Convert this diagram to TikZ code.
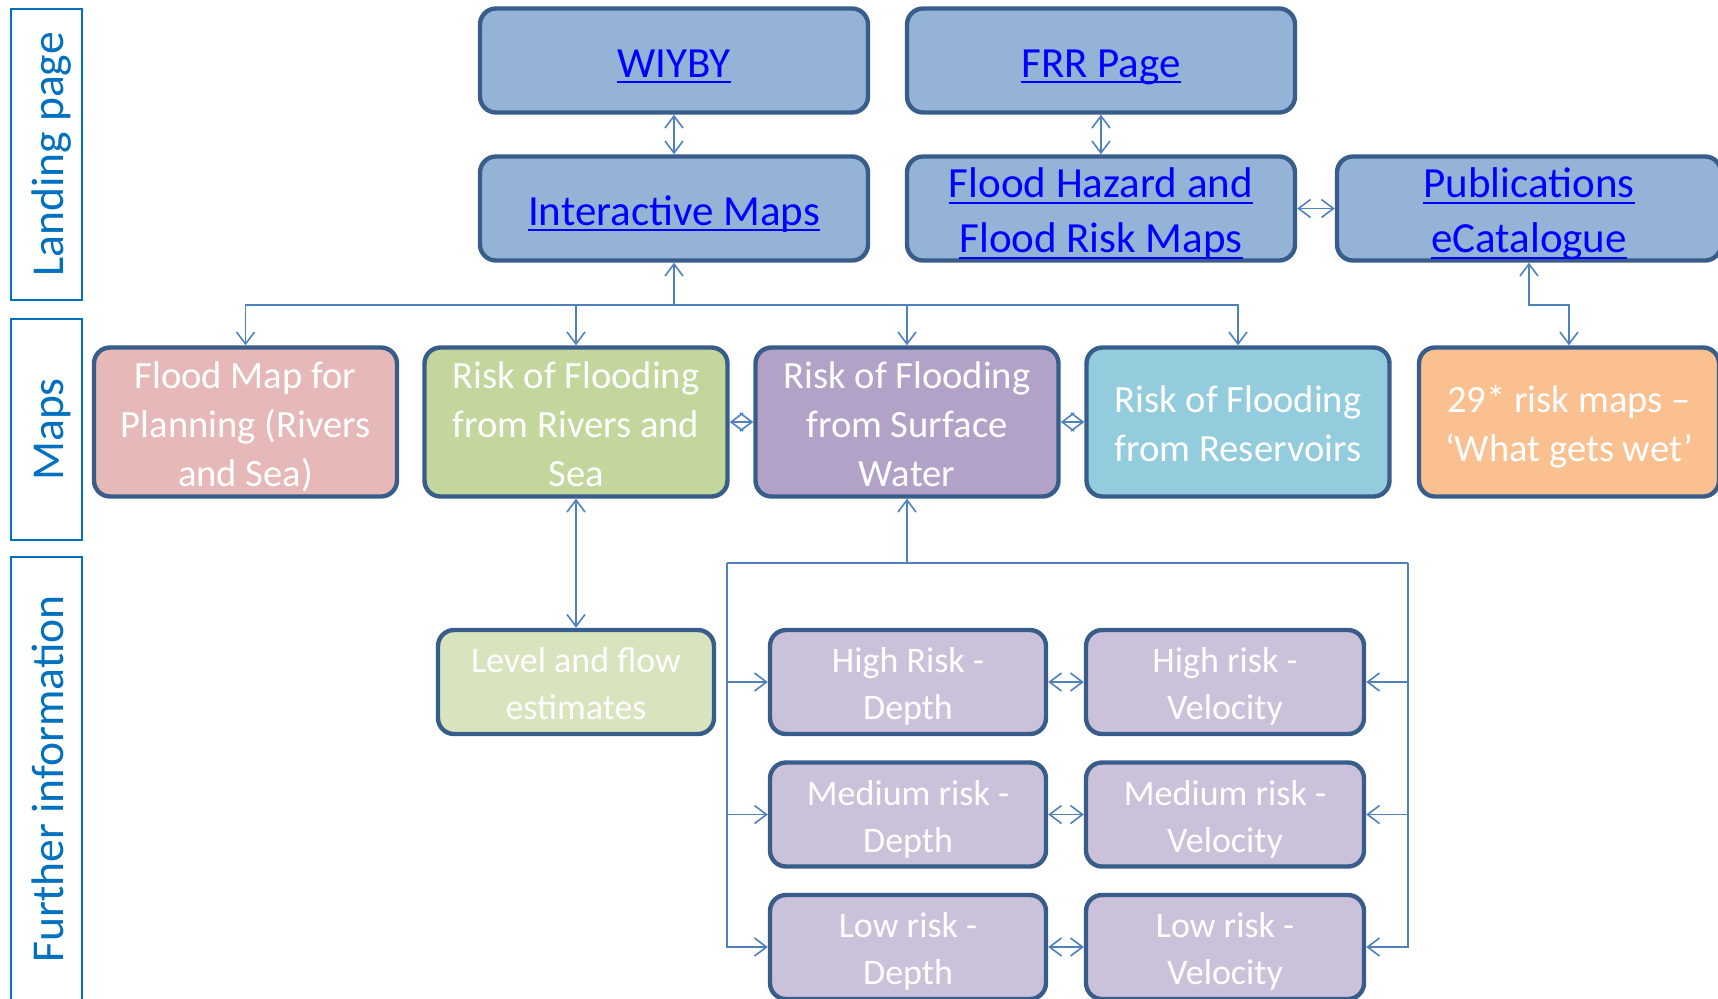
\documentclass[tikz,border=0pt]{standalone}
\usepackage{fontspec}
\setmainfont{Carlito}
\usetikzlibrary{arrows.meta}
\definecolor{topfill}{HTML}{95B3D7}
\definecolor{edgecol}{HTML}{385D8A}
\definecolor{conncol}{HTML}{4F81BD}
\definecolor{labcol}{HTML}{0070C0}
\definecolor{linkcol}{HTML}{0000FF}
\definecolor{pinkfill}{HTML}{E6B9B8}
\definecolor{greenfill}{HTML}{C3D69B}
\definecolor{purplefill}{HTML}{B3A2C7}
\definecolor{aquafill}{HTML}{93CDDD}
\definecolor{orangefill}{HTML}{FAC090}
\definecolor{lgreenfill}{HTML}{D7E4BD}
\definecolor{lpurplefill}{HTML}{CCC1DA}
\newcommand\tx[1]{\raisebox{-0.135em}[\height][\depth]{\begin{tabular}{@{}c@{}}#1\end{tabular}}}
\newsavebox\ulbox
\newcommand\lnk[1]{\sbox\ulbox{#1}\makebox[0pt][l]{\rule[-3pt]{\wd\ulbox}{1.1pt}}\usebox\ulbox}
\begin{document}
\begin{tikzpicture}[x=0.5pt,y=-0.5pt,
  >={Straight Barb[length=6pt,width=9pt]},
  box/.style={draw=edgecol, line width=2.2pt, rounded corners=8pt, text=white, inner xsep=0pt, inner ysep=-20pt},
  topbox/.style={box, fill=topfill, text=linkcol, minimum width=194pt, minimum height=52pt, font=\fontsize{21.5}{27.5}\selectfont},
  mapbox/.style={box, minimum width=151.5pt, minimum height=74.5pt, font=\fontsize{19.3}{24.5}\selectfont},
  infobox/.style={box, fill=lpurplefill, minimum width=138pt, minimum height=52pt, font=\fontsize{18}{23.5}\selectfont},
  lane/.style={draw=labcol, line width=0.8pt, text=labcol, minimum height=35.5pt, inner xsep=0pt, inner ysep=-20pt, rotate=90, font=\fontsize{22.8}{27}\selectfont},
  conn/.style={draw=conncol, line width=0.8pt}
]
\useasboundingbox (0,0) rectangle (1718,998);
\clip (0,0) rectangle (1718,998);

% lane labels
\node[lane, minimum width=145.5pt] (lland) at (46.5,154.5) {\tx{Landing page}};
\node[lane, minimum width=110.5pt] (lmaps) at (46.5,429.5) {\tx{Maps}};
\node[lane, minimum width=222pt] (lfurther) at (46.5,779) {\tx{Further information}};

% top boxes
\node[topbox] (wiyby) at (674,60.5) {\tx{\lnk{WIYBY}}};
\node[topbox] (frr) at (1101,60.5) {\tx{\lnk{FRR Page}}};
\node[topbox] (imaps) at (674,208.5) {\tx{\lnk{Interactive Maps}}};
\node[topbox] (fhaz) at (1101,208.5) {\tx{\lnk{Flood Hazard and}\\\lnk{Flood Risk Maps}}};
\node[topbox, minimum width=192pt] (pubs) at (1529,208.5) {\tx{\lnk{Publications}\\\lnk{eCatalogue}}};

% maps row
\node[mapbox, fill=pinkfill] (fmap) at (245.5,422) {\tx{Flood Map for\\Planning (Rivers\\and Sea)}};
\node[mapbox, fill=greenfill] (rivers) at (576,422) {\tx{Risk of Flooding\\from Rivers and\\Sea}};
\node[mapbox, fill=purplefill] (surface) at (907,422) {\tx{Risk of Flooding\\from Surface\\Water}};
\node[mapbox, fill=aquafill] (reserv) at (1238,422) {\tx{Risk of Flooding\\from Reservoirs}};
\node[mapbox, fill=orangefill, minimum width=150pt] (risk29) at (1569,422) {\tx{29* risk maps --\\‘What gets wet’}};

% further information
\node[infobox, fill=lgreenfill] (level) at (576,682) {\tx{Level and flow\\estimates}};
\node[infobox] (highD) at (908,682) {\tx{High Risk -\\Depth}};
\node[infobox, minimum width=139pt] (highV) at (1225,682) {\tx{High risk -\\Velocity}};
\node[infobox] (medD) at (908,814.5) {\tx{Medium risk -\\Depth}};
\node[infobox, minimum width=139pt] (medV) at (1225,814.5) {\tx{Medium risk -\\Velocity}};
\node[infobox] (lowD) at (908,947) {\tx{Low risk -\\Depth}};
\node[infobox, minimum width=139pt] (lowV) at (1225,947) {\tx{Low risk -\\Velocity}};

% connectors, top
\draw[conn,<->] (wiyby) -- (imaps);
\draw[conn,<->] (frr) -- (fhaz);
\draw[conn,<->] (fhaz) -- (pubs);

\coordinate (bus) at (674,305);
\draw[conn,->] (bus) -- (imaps);
\draw[conn,->] (bus) -| (fmap);
\draw[conn,->] (bus) -| (rivers);
\draw[conn,->] (bus) -| (surface);
\draw[conn,->] (bus) -| (reserv);
\draw[conn,<->] (pubs.south) -- (pubs.south |- bus) -| (risk29);

% maps row links
\draw[conn,<->] (rivers) -- (surface);
\draw[conn,<->] (surface) -- (reserv);
\draw[conn,<->] (rivers) -- (level);

% surface water bus
\coordinate (sbus) at (907,563);
\coordinate (lbus) at (727,563);
\coordinate (rbus) at (1408,563);
\draw[conn,->] (sbus) -- (surface);
\draw[conn] (lbus) -- (rbus);
\draw[conn,->] (lbus) |- (highD);
\draw[conn,->] (lbus) |- (medD);
\draw[conn,->] (lbus) |- (lowD);
\draw[conn,->] (rbus) |- (highV);
\draw[conn,->] (rbus) |- (medV);
\draw[conn,->] (rbus) |- (lowV);
\draw[conn,<->] (highD) -- (highV);
\draw[conn,<->] (medD) -- (medV);
\draw[conn,<->] (lowD) -- (lowV);
\end{tikzpicture}
\end{document}
